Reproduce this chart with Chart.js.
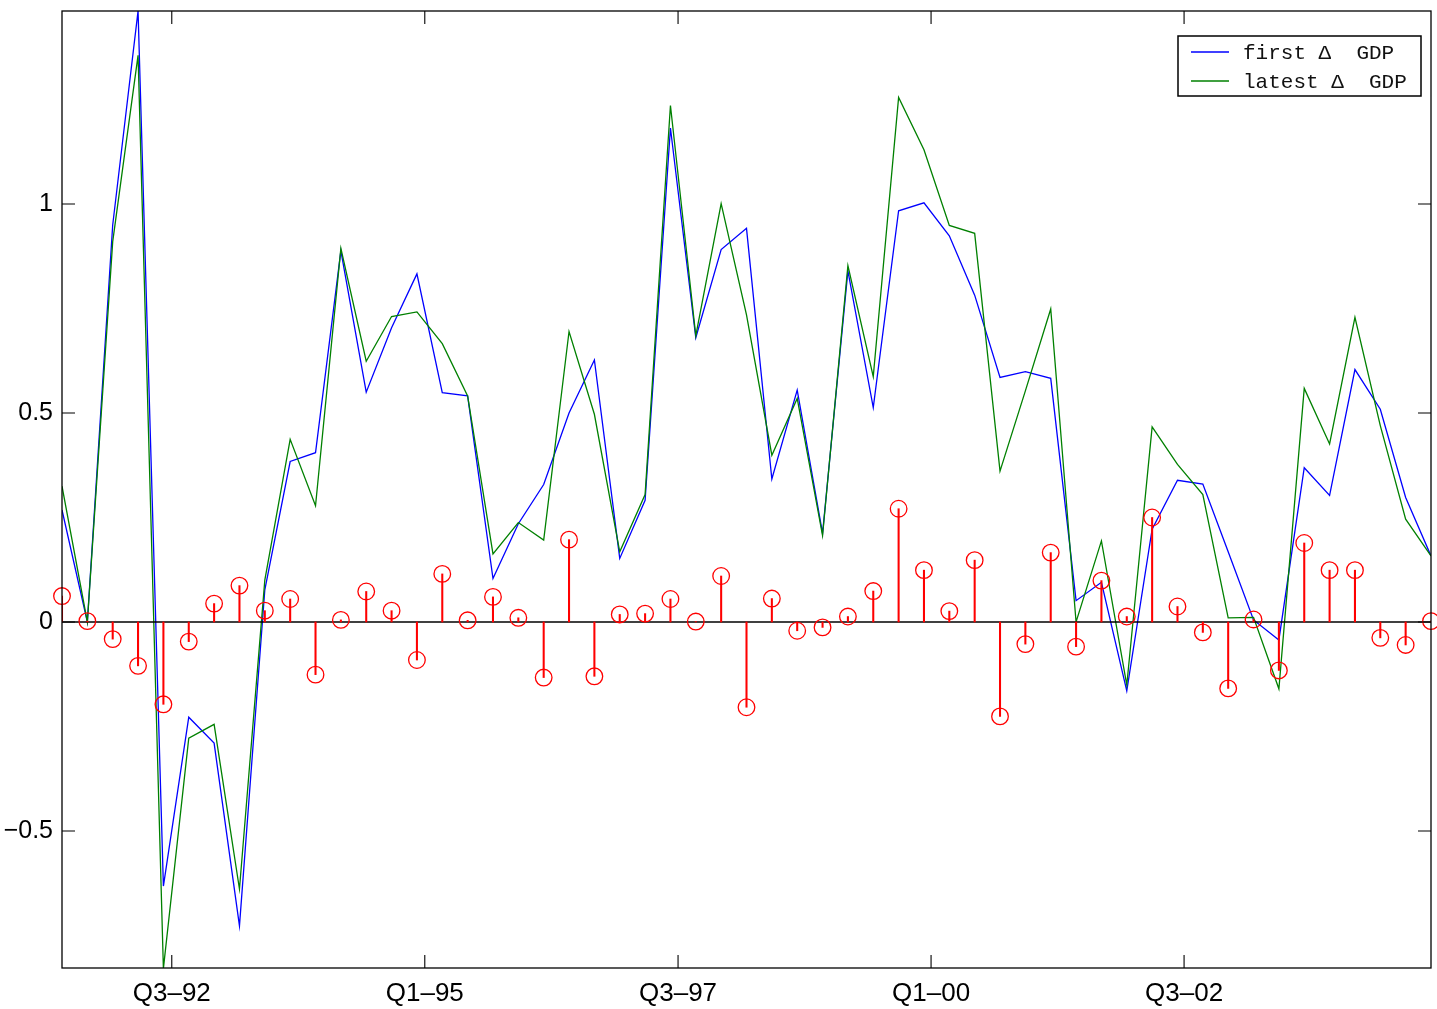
<!DOCTYPE html>
<html>
<head>
<meta charset="utf-8">
<script src="https://cdn.jsdelivr.net/npm/chart.js@4/dist/chart.umd.min.js"></script>
<style>
html,body{margin:0;padding:0;background:#fff;}
#wrap{width:1437px;height:1009px;position:relative;}
</style>
</head>
<body>
<div id="wrap"><canvas id="c"></canvas></div>
<script>
// quarter index (0 = first observation)
const quarterIndex = [0,1,2,3,4,5,6,7,8,9,10,11,12,13,14,15,16,17,18,19,20,21,22,23,24,25,26,27,28,29,30,31,32,33,34,35,36,37,38,39,40,41,42,43,44,45,46,47,48,49,50,51,52,53,54];

const firstGDP = [0.268,0.0,0.95,1.462,-0.632,-0.228,-0.29,-0.727,0.077,0.384,
  0.405,0.888,0.55,0.704,0.833,0.549,0.541,0.104,0.235,0.329,
  0.5,0.627,0.152,0.291,1.182,0.68,0.891,0.942,0.342,0.555,
  0.212,0.84,0.513,0.984,1.003,0.924,0.782,0.585,0.599,0.583,
  0.051,0.095,-0.165,0.222,0.339,0.33,0.168,0.005,-0.043,0.369,
  0.303,0.604,0.509,0.298,0.158];

const latestGDP = [0.325,0.0,0.91,1.356,-0.829,-0.278,-0.245,-0.639,0.1,0.437,
  0.278,0.894,0.624,0.731,0.742,0.666,0.541,0.163,0.238,0.196,
  0.695,0.497,0.168,0.305,1.236,0.685,1.001,0.735,0.399,0.535,
  0.207,0.853,0.587,1.255,1.13,0.949,0.93,0.361,0.553,0.749,
  0.0,0.194,-0.151,0.467,0.377,0.305,0.01,0.011,-0.16,0.559,
  0.426,0.729,0.47,0.246,0.158];

const revision = [0.062,0.002,-0.041,-0.105,-0.197,-0.047,0.044,0.087,0.027,0.055,
  -0.126,0.005,0.073,0.027,-0.091,0.115,0.004,0.06,0.01,-0.133,
  0.197,-0.13,0.018,0.02,0.055,0.001,0.11,-0.204,0.056,-0.021,
  -0.013,0.013,0.074,0.271,0.124,0.026,0.148,-0.226,-0.053,0.166,
  -0.059,0.099,0.013,0.25,0.037,-0.025,-0.159,0.006,-0.116,0.189,
  0.124,0.124,-0.038,-0.055,0.002];

const xTickPositions = [4.33, 14.31, 24.30, 34.28, 44.26];
const xTickLabels = ['Q3\u201392','Q1\u201395','Q3\u201397','Q1\u201300','Q3\u201302'];
const yTickValues = [-0.5, 0, 0.5, 1];
const yTickLabels = ['\u22120.5','0','0.5','1'];
const seriesLabels = ['first \u0394  GDP','latest \u0394  GDP'];

const xMin = 0, xMax = 54, yMin = -0.828, yMax = 1.462;

const pts = (vals) => quarterIndex.map((q, i) => ({x: q, y: vals[i]}));

const framePlugin = {
  id: 'frame',
  afterDatasetDraw(chart, args) {
    // stem baseline drawn after the line series, before the stems
    if (args.index !== 1) return;
    const {ctx, chartArea: a, scales: {y}} = chart;
    const y0 = y.getPixelForValue(0);
    ctx.save();
    ctx.strokeStyle = '#000';
    ctx.lineWidth = 1.3;
    ctx.beginPath();
    ctx.moveTo(a.left, y0);
    ctx.lineTo(a.right, y0);
    ctx.stroke();
    ctx.restore();
  },
  afterDraw(chart) {
    const {ctx, chartArea: a, scales: {x, y}} = chart;
    ctx.save();
    ctx.strokeStyle = '#000';
    ctx.lineWidth = 1.3;
    ctx.strokeRect(a.left, a.top, a.right - a.left, a.bottom - a.top);
    const tl = 13;
    ctx.lineWidth = 1.1;
    ctx.beginPath();
    x.ticks.forEach(t => {
      const px = x.getPixelForValue(t.value);
      ctx.moveTo(px, a.bottom); ctx.lineTo(px, a.bottom - tl);
      ctx.moveTo(px, a.top); ctx.lineTo(px, a.top + tl);
    });
    y.ticks.forEach(t => {
      const py = y.getPixelForValue(t.value);
      ctx.moveTo(a.left, py); ctx.lineTo(a.left + tl, py);
      ctx.moveTo(a.right, py); ctx.lineTo(a.right - tl, py);
    });
    ctx.stroke();

    // legend
    const lx = 1178, ly = 36, lw = 243, lh = 60;
    ctx.fillStyle = '#fff';
    ctx.fillRect(lx, ly, lw, lh);
    ctx.lineWidth = 1.5;
    ctx.strokeStyle = '#000';
    ctx.strokeRect(lx, ly, lw, lh);
    const rows = [52, 81];
    const ds = chart.data.datasets;
    ctx.font = '21px "Liberation Mono", "DejaVu Sans Mono", monospace';
    ctx.textBaseline = 'middle';
    ctx.textAlign = 'left';
    [0, 1].forEach((k, i) => {
      ctx.strokeStyle = ds[k].borderColor;
      ctx.lineWidth = 1.3;
      ctx.beginPath();
      ctx.moveTo(1191, rows[i]);
      ctx.lineTo(1229, rows[i]);
      ctx.stroke();
      ctx.fillStyle = '#111';
      ctx.fillText(ds[k].label, 1243, rows[i] + 1);
    });
    ctx.restore();
  }
};

new Chart(document.getElementById('c'), {
  type: 'line',
  data: {
    datasets: [
      { label: seriesLabels[0], data: pts(firstGDP), borderColor: '#0000ff', borderWidth: 1.3,
        pointRadius: 0, tension: 0, fill: false, order: 3 },
      { label: seriesLabels[1], data: pts(latestGDP), borderColor: '#008000', borderWidth: 1.3,
        pointRadius: 0, tension: 0, fill: false, order: 2 },
      { type: 'bar', label: 'revision stems', data: pts(revision), backgroundColor: '#ff0000',
        borderWidth: 0, barThickness: 1.4, grouped: false, order: 1 },
      { label: 'revision', data: pts(revision), showLine: false, pointRadius: 8.3,
        pointBorderColor: '#ff0000', pointBackgroundColor: 'rgba(0,0,0,0)', pointBorderWidth: 1.3,
        borderColor: '#ff0000', clip: false, order: 0 }
    ]
  },
  options: {
    responsive: true,
    maintainAspectRatio: false,
    animation: false,
    events: [],
    layout: { autoPadding: false, padding: { top: 11, right: 6, left: 0, bottom: 0 } },
    plugins: { legend: { display: false }, tooltip: { enabled: false }, title: { display: false } },
    scales: {
      x: {
        type: 'linear', min: xMin, max: xMax, offset: false,
        grid: { display: false, drawTicks: false, offset: false },
        border: { display: false },
        afterBuildTicks: s => { s.ticks = xTickPositions.map(v => ({ value: v })); },
        afterFit: s => { s.height = 41; s.paddingLeft = 0; s.paddingRight = 0; s.paddingTop = 0; s.paddingBottom = 0; },
        ticks: {
          autoSkip: false, maxRotation: 0, padding: 10, color: '#000',
          font: { family: '"Liberation Sans", Arial, Helvetica, sans-serif', size: 26 },
          callback: (v, i) => xTickLabels[i]
        }
      },
      y: {
        type: 'linear', min: yMin, max: yMax, beginAtZero: false,
        grid: { display: false, drawTicks: false },
        border: { display: false },
        afterBuildTicks: s => { s.ticks = yTickValues.map(v => ({ value: v })); },
        afterFit: s => { s.width = 62; s.paddingTop = 0; s.paddingBottom = 0; s.paddingLeft = 0; s.paddingRight = 0; },
        ticks: {
          padding: 9, color: '#000',
          font: { family: '"Liberation Sans", Arial, Helvetica, sans-serif', size: 25 },
          callback: (v, i) => yTickLabels[i]
        }
      }
    }
  },
  plugins: [framePlugin]
});
</script>
</body>
</html>
